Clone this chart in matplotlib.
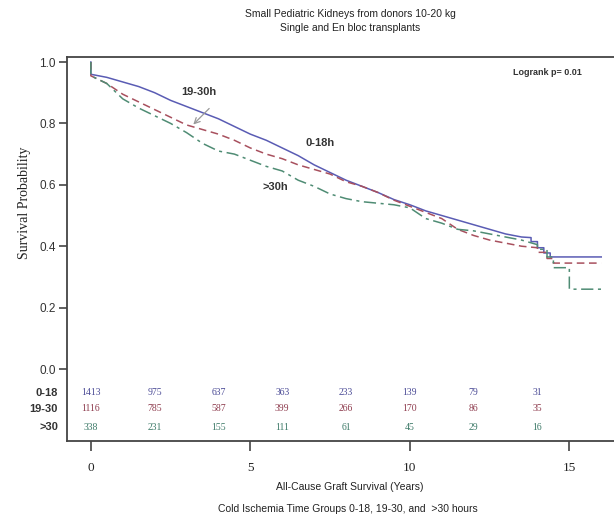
import numpy as np
import matplotlib
matplotlib.use("Agg")
import matplotlib.pyplot as plt

# Kaplan-Meier curves (years, survival); repeated times are vertical drops
t_018 = [0, 0, 0.5, 1.0, 1.5, 2.0, 2.5, 3.0, 3.5, 4.0, 4.5, 5.0, 5.5, 6.0, 6.5, 7.0, 7.5, 8.0,
         8.5, 9.0, 9.5, 10.0, 10.5, 11.0, 11.5, 12.0, 12.5, 13.0, 13.5, 13.8, 13.8, 14.0, 14.0,
         14.2, 14.2, 14.4, 14.4, 16.0]
s_018 = [1.0, 0.96, 0.95, 0.935, 0.92, 0.90, 0.875, 0.855, 0.835, 0.815, 0.79, 0.765, 0.745, 0.72,
         0.695, 0.665, 0.64, 0.615, 0.595, 0.575, 0.552, 0.535, 0.515, 0.50, 0.485, 0.47, 0.455,
         0.44, 0.43, 0.428, 0.415, 0.415, 0.395, 0.395, 0.378, 0.378, 0.365, 0.365]

t_1930 = [0, 0, 0.5, 1.0, 1.5, 2.0, 2.5, 3.0, 3.5, 4.0, 4.5, 5.0, 5.5, 6.0, 6.5, 7.0, 7.5, 8.0,
          8.5, 9.0, 9.5, 10.0, 10.5, 11.0, 11.5, 12.0, 12.5, 13.0, 13.5, 14.0, 14.0, 14.3, 14.3,
          14.5, 14.5, 16.0]
s_1930 = [1.0, 0.955, 0.93, 0.895, 0.87, 0.845, 0.82, 0.795, 0.78, 0.765, 0.745, 0.72, 0.70, 0.685,
          0.665, 0.65, 0.635, 0.61, 0.595, 0.575, 0.55, 0.53, 0.51, 0.49, 0.455, 0.435, 0.42, 0.41,
          0.40, 0.395, 0.38, 0.38, 0.36, 0.36, 0.345, 0.345]

t_30 = [0, 0, 0.5, 1.0, 1.5, 2.0, 2.5, 3.0, 3.5, 4.0, 4.5, 5.0, 5.5, 6.0, 6.5, 7.0, 7.5, 8.0,
        8.5, 9.0, 9.5, 10.0, 10.5, 11.0, 11.5, 12.0, 12.5, 13.0, 13.5, 14.0, 14.0, 14.3, 14.3,
        14.5, 14.5, 15.0, 15.0, 16.0]
s_30 = [1.0, 0.955, 0.93, 0.88, 0.85, 0.825, 0.80, 0.77, 0.735, 0.71, 0.70, 0.68, 0.66, 0.645,
        0.615, 0.595, 0.57, 0.555, 0.545, 0.54, 0.535, 0.525, 0.49, 0.475, 0.455, 0.45, 0.44,
        0.43, 0.42, 0.405, 0.39, 0.39, 0.365, 0.365, 0.33, 0.33, 0.26, 0.26]

# numbers at risk
risk_times = [0, 2, 4, 6, 8, 10, 12, 14]
risk_018 = [1413, 975, 637, 363, 233, 139, 79, 31]
risk_1930 = [1116, 785, 587, 399, 266, 170, 86, 35]
risk_30 = [338, 231, 155, 111, 61, 45, 29, 16]
group_names = ["0-18", "19-30", ">30"]

c_blue = "#5a5cb4"
c_red = "#a8505e"
c_green = "#4f8c74"
txt_blue = "#4b4b96"
txt_red = "#8e3c4e"
txt_green = "#3d7a68"

sans = "Liberation Sans"
serif = "Liberation Serif"

fig = plt.figure(figsize=(6.14, 5.19), dpi=100)
ax = fig.add_axes([0.109, 0.150, 0.891, 0.740])

ax.plot(t_018, s_018, color=c_blue, lw=1.1)
ax.plot(t_1930, s_1930, color=c_red, lw=1.1, dashes=(5, 3))
ax.plot(t_30, s_30, color=c_green, lw=1.1, dashes=(8, 3, 2, 3))

ax.set_xlim(-0.75, 16.4)
ax.set_ylim(-0.235, 1.016)
ax.set_yticks([0.0, 0.2, 0.4, 0.6, 0.8, 1.0])
ax.set_yticklabels(["0.0", "0.2", "0.4", "0.6", "0.8", "1.0"], family=sans, fontsize=8.5, color="#333333")
ax.set_xticks([0, 5, 10, 15])
ax.set_xticklabels(["0", "5", "10", "15"], family=serif, fontsize=9.5, color="#222222")
ax.tick_params(axis="y", direction="out", length=6, width=1.2, color="#444444", pad=2)
ax.tick_params(axis="x", direction="out", length=7, width=1.2, color="#444444", pad=8)
for side in ["left", "bottom", "top"]:
    ax.spines[side].set_color("#444444")
    ax.spines[side].set_linewidth(1.3)
ax.spines["right"].set_visible(False)

ax.set_ylabel("Survival Probability", family=serif, fontsize=10, color="#222222")
ax.yaxis.set_label_coords(-0.065, 0.62)

# curve labels
ax.text(3.4, 0.902, "19-30h", family=sans, fontsize=8, fontweight="bold", color="#333333",
        ha="center", va="center")
ax.annotate("", xy=(3.15, 0.79), xytext=(3.77, 0.855),
            arrowprops=dict(arrowstyle="->", color="#999999", lw=0.9))
ax.text(7.2, 0.736, "0-18h", family=sans, fontsize=8, fontweight="bold", color="#333333",
        ha="center", va="center")
ax.text(5.8, 0.593, ">30h", family=sans, fontsize=8, fontweight="bold", color="#333333",
        ha="center", va="center")
ax.text(14.3, 0.967, "Logrank p= 0.01", family=sans, fontsize=6.5, fontweight="bold",
        color="#333333", ha="center", va="center")

# number-at-risk table inside the frame
rows = [(risk_018, -0.078, txt_blue), (risk_1930, -0.13, txt_red), (risk_30, -0.19, txt_green)]
for (vals, yy, col), name in zip(rows, group_names):
    for tt, v in zip(risk_times, vals):
        ax.text(tt, yy, str(v), family=serif, fontsize=7, color=col, ha="center", va="center")
    ax.text(-1.03, yy, name, family=sans, fontsize=8, fontweight="bold", color="#333333",
            ha="right", va="center", clip_on=False)

fig.text(0.57, 0.973, "Small Pediatric Kidneys from donors 10-20 kg", family=sans, fontsize=7.5,
         color="#222222", ha="center", va="center")
fig.text(0.57, 0.946, "Single and En bloc transplants", family=sans, fontsize=7.5,
         color="#222222", ha="center", va="center")
fig.text(0.57, 0.062, "All-Cause Graft Survival (Years)", family=sans, fontsize=7.5,
         color="#222222", ha="center", va="center")
fig.text(0.567, 0.010, "Cold Ischemia Time Groups 0-18, 19-30, and  >30 hours", family=sans,
         fontsize=7.5, color="#222222", ha="center", va="bottom")

fig.savefig("out.png", dpi=100)
